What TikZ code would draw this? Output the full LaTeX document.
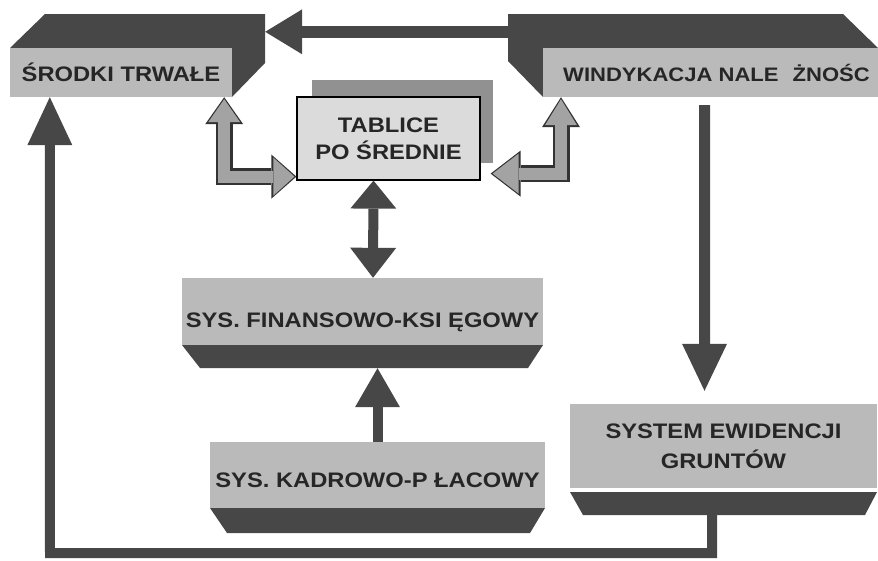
\documentclass[tikz,border=0pt]{standalone}
\usepackage{fontspec}
\newfontfamily\boxfont{Liberation Sans}[FakeStretch=1.13]
\usetikzlibrary{arrows.meta}

\definecolor{darkface}{gray}{0.28}
\definecolor{frontface}{gray}{0.73}
\definecolor{lightface}{gray}{0.86}
\definecolor{shadowface}{gray}{0.57}
\definecolor{arrowgray}{gray}{0.64}

\pgfkeys{/pgf/arrow keys/sz/.style 2 args={length=#1 0, width=#2 0, line width=0pt 0}}

\begin{document}
\begin{tikzpicture}[x=1pt, y=-1pt,
  face/.style={fill=frontface, inner sep=0pt, align=center, text=black!85,
    font=\boxfont\bfseries\fontsize{21}{27}\selectfont},
  conn/.style={draw=darkface, line join=miter}]

\clip (0,0) rectangle (878,560);

\fill[darkface] (10,48) -- (45,14) -- (265,14) -- (265,63) -- (232,97) -- (232,48) -- cycle;
\fill[darkface] (878,48) -- (843,14) -- (508,14) -- (508,61) -- (543,97) -- (543,48) -- cycle;
\fill[darkface] (182,345) -- (543,345) -- (528,368) -- (200,368) -- cycle;
\fill[darkface] (210,508) -- (545,508) -- (530,533) -- (227,533) -- cycle;
\fill[darkface] (570,492) -- (877,492) -- (865,515) -- (583,515) -- cycle;
\fill[shadowface] (312,80) rectangle (493,163);

\node[face, minimum width=222, minimum height=49] (srodki) at (121,72.5) {ŚRODKI TRWAŁE};
\node[face, anchor=west, minimum height=49, inner xsep=20pt, font=\boxfont\bfseries\fontsize{19.5}{24}\selectfont] (windyk) at (543,72.5)
  {\makebox[295pt][l]{WINDYKACJA NALE\hspace{14pt}ŻNOŚC}};
\node[face, fill=lightface, draw=black, line width=1.2pt, minimum width=183, minimum height=83] (tablice) at (388.5,138.5) {TABLICE\\PO ŚREDNIE};
\node[face, minimum width=361, minimum height=67, text height=36pt, text depth=4pt] (finans) at (362.5,311.5) {SYS. FINANSOWO-KSI ĘGOWY};
\node[face, minimum width=335, minimum height=66, text height=28pt, text depth=4pt] (kadrowo) at (377.5,475) {SYS. KADROWO-P ŁACOWY};
\node[face, minimum width=307, minimum height=84, font=\boxfont\bfseries\fontsize{21}{30}\selectfont] (ewid) at (723.5,446) {SYSTEM EWIDENCJI\\GRUNTÓW};

\coordinate (ret) at (50,553);

\draw[conn, line width=12pt, -{Triangle[sz={37pt}{45pt}]}] ([xshift=-35pt,yshift=16pt]windyk.north west) -- ([xshift=33pt,yshift=16pt]srodki.north east);
\draw[conn, line width=11pt, -{Triangle[sz={47pt}{45pt}]}] ([xshift=-6pt,yshift=-8pt]windyk.south) -- ([xshift=-19pt,yshift=13pt]ewid.north);
\draw[conn, line width=10pt, -{Triangle[sz={48pt}{45pt}]}] ([xshift=-11.5pt,yshift=-23pt]ewid.south) |- (ret) -- ([xshift=40pt]srodki.south west);
\draw[conn, line width=10pt, {Triangle[sz={28pt}{46pt}]}-{Triangle[sz={30pt}{46pt}]}] ([xshift=-15pt]tablice.south) -- ([xshift=10.5pt]finans.north);
\draw[conn, line width=10pt, -{Triangle[sz={39pt}{45pt}]}] (kadrowo.north) -- ([xshift=15pt,yshift=-23pt]finans.south);

\draw[conn, draw=black!80, line width=17pt, {Triangle[sz={27pt}{38pt}]}-{Triangle[sz={25pt}{44pt}]}] ([xshift=-8pt]srodki.south east) |- ([yshift=4pt]tablice.south west);
\draw[conn, draw=arrowgray, line width=12pt, {Triangle[sz={23pt}{32pt}]}-{Triangle[sz={21pt}{38pt}]}] ([xshift=-8pt,yshift=-2pt]srodki.south east) |- ([xshift=-2pt,yshift=4pt]tablice.south west);
\draw[conn, draw=black!80, line width=17pt, {Triangle[sz={30pt}{38pt}]}-{Triangle[sz={30pt}{46pt}]}] ([xshift=18pt]windyk.south west) |- ([xshift=10pt,yshift=7pt]tablice.south east);
\draw[conn, draw=arrowgray, line width=12pt, {Triangle[sz={26pt}{32pt}]}-{Triangle[sz={26pt}{40pt}]}] ([xshift=18pt,yshift=-2pt]windyk.south west) |- ([xshift=12pt,yshift=7pt]tablice.south east);

\end{tikzpicture}
\end{document}
